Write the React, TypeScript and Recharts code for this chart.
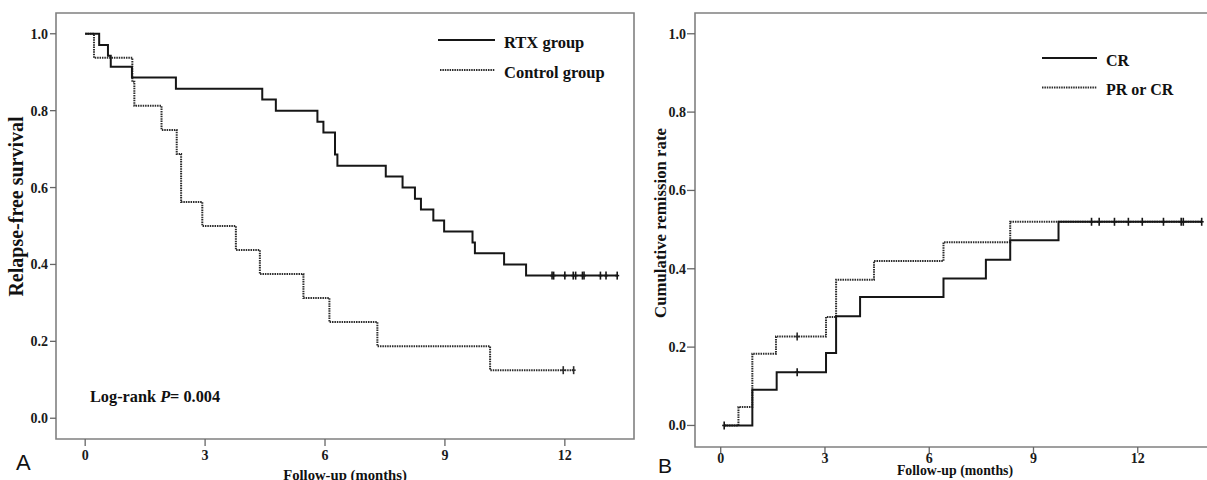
import React from 'react';
import { ComposedChart, Line, Scatter, XAxis, YAxis, ReferenceArea } from 'recharts';

// Panel A: relapse-free survival (Kaplan-Meier)
const rtxSurvival = [
  { t: 0, v: 1 }, { t: 0.35, v: 0.971 }, { t: 0.57, v: 0.943 }, { t: 0.64, v: 0.914 },
  { t: 1.17, v: 0.886 }, { t: 2.27, v: 0.857 }, { t: 4.43, v: 0.829 }, { t: 4.77, v: 0.8 },
  { t: 5.81, v: 0.771 }, { t: 5.96, v: 0.743 }, { t: 6.25, v: 0.686 }, { t: 6.31, v: 0.657 },
  { t: 7.52, v: 0.629 }, { t: 7.94, v: 0.6 }, { t: 8.25, v: 0.571 }, { t: 8.4, v: 0.543 },
  { t: 8.71, v: 0.514 }, { t: 8.98, v: 0.486 }, { t: 9.69, v: 0.457 }, { t: 9.75, v: 0.429 },
  { t: 10.48, v: 0.4 }, { t: 11.03, v: 0.371 }, { t: 13.31, v: 0.371 },
];
const rtxCensored = [
  { t: 11.68, v: 0.371 }, { t: 11.72, v: 0.371 }, { t: 12.0, v: 0.371 }, { t: 12.21, v: 0.371 },
  { t: 12.27, v: 0.371 }, { t: 12.44, v: 0.371 }, { t: 12.48, v: 0.371 }, { t: 12.89, v: 0.371 },
  { t: 13.03, v: 0.371 }, { t: 13.31, v: 0.371 },
];
const controlSurvival = [
  { t: 0, v: 1 }, { t: 0.22, v: 0.9375 }, { t: 1.18, v: 0.875 }, { t: 1.23, v: 0.8125 },
  { t: 1.91, v: 0.75 }, { t: 2.29, v: 0.6875 }, { t: 2.4, v: 0.5625 }, { t: 2.93, v: 0.5 },
  { t: 3.77, v: 0.4375 }, { t: 4.37, v: 0.375 }, { t: 5.46, v: 0.3125 }, { t: 6.11, v: 0.25 },
  { t: 7.31, v: 0.1875 }, { t: 10.13, v: 0.125 }, { t: 12.22, v: 0.125 },
];
const controlCensored = [{ t: 11.96, v: 0.125 }, { t: 12.22, v: 0.125 }];

// Panel B: cumulative remission rate
const crRemission = [
  { t: 0.1, v: 0 }, { t: 0.91, v: 0.091 }, { t: 1.61, v: 0.136 }, { t: 3.03, v: 0.185 },
  { t: 3.32, v: 0.279 }, { t: 4.01, v: 0.328 }, { t: 6.41, v: 0.375 }, { t: 7.63, v: 0.423 },
  { t: 8.33, v: 0.473 }, { t: 9.72, v: 0.52 }, { t: 13.84, v: 0.52 },
];
const crCensored = [
  { t: 0.1, v: 0 }, { t: 2.2, v: 0.136 }, { t: 10.67, v: 0.52 }, { t: 10.89, v: 0.52 },
  { t: 11.33, v: 0.52 }, { t: 11.73, v: 0.52 }, { t: 12.13, v: 0.52 }, { t: 12.74, v: 0.52 },
  { t: 13.25, v: 0.52 }, { t: 13.31, v: 0.52 }, { t: 13.84, v: 0.52 },
];
const prcrRemission = [
  { t: 0.1, v: 0 }, { t: 0.51, v: 0.047 }, { t: 0.91, v: 0.183 }, { t: 1.59, v: 0.227 },
  { t: 3.03, v: 0.277 }, { t: 3.32, v: 0.372 }, { t: 4.41, v: 0.42 }, { t: 6.41, v: 0.468 },
  { t: 8.33, v: 0.52 }, { t: 13.84, v: 0.52 },
];
const prcrCensored = [{ t: 2.2, v: 0.227 }];

const xTicks = [0, 3, 6, 9, 12];
const yTicks = [0, 0.2, 0.4, 0.6, 0.8, 1.0];

const SERIF = '"Liberation Serif", "Times New Roman", serif';
const SOLID = '#161616';
const DOTTED = '#2c2c2c';
const DASH = '1.5 0.9';
const FRAME = '#808080';

const tickStyle = { fill: '#1a1a1a', fontSize: 14, fontWeight: 700, fontFamily: SERIF };

const censorShape = (color: string) => (props: any) => {
  const { cx, cy } = props;
  if (cx == null || cy == null) return <g />;
  return (
    <g>
      <line x1={cx} x2={cx} y1={cy - 4} y2={cy + 4} stroke={color} strokeWidth={1.6} />
      <line x1={cx - 2} x2={cx + 2} y1={cy} y2={cy} stroke={color} strokeWidth={1.6} />
    </g>
  );
};

export default function App() {
  const ax = [-0.73, 13.73];
  const ay = [-0.054, 1.054];
  const bx = [-0.74, 14.05];
  const by = [-0.055, 1.053];
  return (
    <div style={{ position: 'absolute', left: 0, top: 0, width: 1207, height: 480, overflow: 'hidden', background: '#fff' }}>
      <div style={{ position: 'absolute', left: 0, top: 0 }}>
        <ComposedChart width={640} height={480} margin={{ top: 13, right: 6, bottom: 0, left: 0 }}>
          <XAxis type="number" dataKey="t" domain={ax} allowDataOverflow ticks={xTicks} height={41}
            axisLine={false} tickSize={7} tickMargin={4} tickLine={{ stroke: '#666', strokeWidth: 1.3 }} tick={tickStyle} />
          <YAxis type="number" dataKey="v" domain={ay} allowDataOverflow ticks={yTicks} width={56}
            axisLine={false} tickSize={6} tickMargin={2} tickLine={{ stroke: '#666', strokeWidth: 1.3 }}
            tick={tickStyle} tickFormatter={(v: number) => v.toFixed(1)} />
          <ReferenceArea x1={ax[0]} x2={ax[1]} y1={ay[0]} y2={ay[1]} fill="none" fillOpacity={0}
            stroke={FRAME} strokeWidth={1.6} ifOverflow="visible" />
          <Line data={controlSurvival} dataKey="v" type="stepAfter" stroke={DOTTED} strokeWidth={2}
            strokeDasharray={DASH} dot={false} isAnimationActive={false} />
          <Line data={rtxSurvival} dataKey="v" type="stepAfter" stroke={SOLID} strokeWidth={2}
            dot={false} isAnimationActive={false} />
          <Scatter data={controlCensored} dataKey="v" shape={censorShape(DOTTED)} isAnimationActive={false} />
          <Scatter data={rtxCensored} dataKey="v" shape={censorShape(SOLID)} isAnimationActive={false} />
        </ComposedChart>
      </div>
      <div style={{ position: 'absolute', left: 640, top: 0 }}>
        <ComposedChart width={575} height={480} margin={{ top: 13, right: 6, bottom: 0, left: 0 }}>
          <XAxis type="number" dataKey="t" domain={bx} allowDataOverflow ticks={xTicks} height={33}
            axisLine={false} tickSize={6} tickMargin={0} tickLine={{ stroke: '#666', strokeWidth: 1.3 }} tick={tickStyle} />
          <YAxis type="number" dataKey="v" domain={by} allowDataOverflow ticks={yTicks} width={55}
            axisLine={false} tickSize={8} tickMargin={1} tickLine={{ stroke: '#666', strokeWidth: 1.3 }}
            tick={tickStyle} tickFormatter={(v: number) => v.toFixed(1)} />
          <ReferenceArea x1={bx[0]} x2={bx[1]} y1={by[0]} y2={by[1]} fill="none" fillOpacity={0}
            stroke={FRAME} strokeWidth={1.6} ifOverflow="visible" />
          <Line data={prcrRemission} dataKey="v" type="stepAfter" stroke={DOTTED} strokeWidth={2}
            strokeDasharray={DASH} dot={false} isAnimationActive={false} />
          <Line data={crRemission} dataKey="v" type="stepAfter" stroke={SOLID} strokeWidth={2}
            dot={false} isAnimationActive={false} />
          <Scatter data={prcrCensored} dataKey="v" shape={censorShape(DOTTED)} isAnimationActive={false} />
          <Scatter data={crCensored} dataKey="v" shape={censorShape(SOLID)} isAnimationActive={false} />
        </ComposedChart>
      </div>
      <svg width={1207} height={480} style={{ position: 'absolute', left: 0, top: 0, pointerEvents: 'none' }}>
        <g fontFamily={SERIF} fontWeight={700} fill="#111">
          {/* Panel A legend */}
          <line x1={438} x2={495} y1={40} y2={40} stroke={SOLID} strokeWidth={2} />
          <text x={504} y={48} fontSize={16.5}>RTX group</text>
          <line x1={440} x2={495} y1={70} y2={70} stroke={DOTTED} strokeWidth={2} strokeDasharray={DASH} />
          <text x={504} y={77.5} fontSize={16.5}>Control group</text>
          <text x={90} y={402} fontSize={16.3}>Log-rank <tspan fontStyle="italic">P</tspan>= 0.004</text>
          <text transform="translate(23,206.5) rotate(-90)" textAnchor="middle" fontSize={20}>Relapse-free survival</text>
          <text x={345} y={479.5} textAnchor="middle" fontSize={14.7}>Follow-up (months)</text>
          {/* Panel B legend */}
          <line x1={1042} x2={1097} y1={58} y2={58} stroke={SOLID} strokeWidth={2} />
          <text x={1106} y={65.5} fontSize={16}>CR</text>
          <line x1={1042} x2={1097} y1={87.5} y2={87.5} stroke={DOTTED} strokeWidth={2} strokeDasharray={DASH} />
          <text x={1106} y={95} fontSize={16}>PR or CR</text>
          <text transform="translate(666,223) rotate(-90)" textAnchor="middle" fontSize={16.8}>Cumulative remission rate</text>
          <text x={955} y={474.5} textAnchor="middle" fontSize={13.8}>Follow-up (months)</text>
        </g>
        <g fontFamily='"Liberation Sans", Arial, sans-serif' fill="#111">
          <text x={16} y={470} fontSize={22}>A</text>
          <text x={658} y={473} fontSize={21}>B</text>
        </g>
      </svg>
    </div>
  );
}
